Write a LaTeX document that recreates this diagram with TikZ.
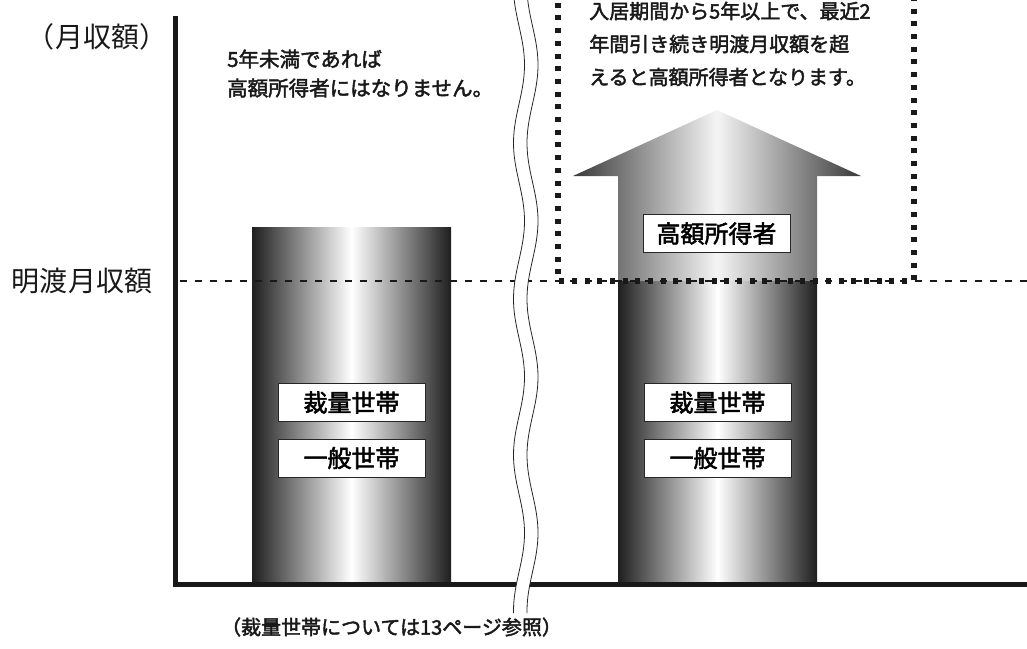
\documentclass[tikz,border=0pt]{standalone}
\usepackage{fontspec}
\newfontfamily\jp{Noto Sans CJK JP}
\newfontfamily\jpm[FakeBold=2.2]{Noto Sans CJK JP}
\begin{document}
\begin{tikzpicture}[x=1pt,y=-1pt,
  colshade/.style={left color=black!88, right color=black!88, middle color=white},
  arrowshade/.style={left color=black!78, right color=black!78, middle color=white!96!black},
  lab/.style={draw=black!85, line width=0.8pt, fill=white, minimum width=147pt, minimum height=38pt, inner sep=0pt, font=\jpm\fontsize{24}{24}\selectfont},
  note/.style={inner sep=0pt, anchor=west, text=black!90, font=\jpm\fontsize{20}{20}\selectfont},
  big/.style={inner sep=0pt, text=black!90, font=\jp\fontsize{28}{28}\selectfont},
  thinwave/.style={line width=0.8pt, black!85}
]
\useasboundingbox (0,0) rectangle (1027,648);
% columns
\shade[colshade] (252,227) rectangle (451,583);
\shade[colshade] (618,281) rectangle (817,583);
% arrow
\shade[arrowshade] (618,281) -- (618,176) -- (573,176) -- (717,110) -- (861,176) -- (817,176) -- (817,281) -- cycle;
% dashed reference line
\draw[line width=1.8pt, black!90, dash pattern=on 7pt off 8pt] (180,281) -- (1027,281);
% axes
\draw[line width=5pt, black!90, line join=miter] (175.5,16) -- (175.5,584.5) -- (1027,584.5);
% wavy break
\fill[white] plot[domain=-5:613, samples=160, smooth] ({519+5.5*cos((\x-377)*2.3077)}, \x)
  -- plot[domain=613:-5, samples=160, smooth] ({532.5+5.5*cos((\x-377)*2.3077)}, \x) -- cycle;
\draw[thinwave] plot[domain=-5:613, samples=160, smooth] ({519+5.5*cos((\x-377)*2.3077)}, \x);
\draw[thinwave] plot[domain=-5:613, samples=160, smooth] ({532.5+5.5*cos((\x-377)*2.3077)}, \x);
% dotted box
\draw[line width=6.5pt, black!90, dash pattern=on 5pt off 7.7pt] (558,-10) -- (558,281) -- (914,281) -- (914,-10);
% labels
\node[big] (yl) at (97,37) {（月収額）};
\node[big] (ml) at (82,281) {明渡月収額};
\node[note, font=\jpm\fontsize{20.5}{20.5}\selectfont] (n1) at (227,59) {5年未満であれば};
\node[note, font=\jpm\fontsize{20.5}{20.5}\selectfont] (n2) at (227,88) {高額所得者にはなりません。};
\node[note] (r1) at (589,11) {入居期間から5年以上で、最近2};
\node[note] (r2) at (589,44) {年間引き続き明渡月収額を超};
\node[note] (r3) at (589,77) {えると高額所得者となります。};
\node[lab] (kh) at (716.5,233.5) {高額所得者};
\node[lab] (s1) at (351.5,402.5) {裁量世帯};
\node[lab] (g1) at (351.5,458) {一般世帯};
\node[lab] (s2) at (717.5,402.5) {裁量世帯};
\node[lab] (g2) at (717.5,458) {一般世帯};
\node[inner sep=0pt, text=black!90, font=\jpm\fontsize{20}{20}\selectfont] (bt) at (391.5,627) {（裁量世帯については13ページ参照）};
\end{tikzpicture}
\end{document}
